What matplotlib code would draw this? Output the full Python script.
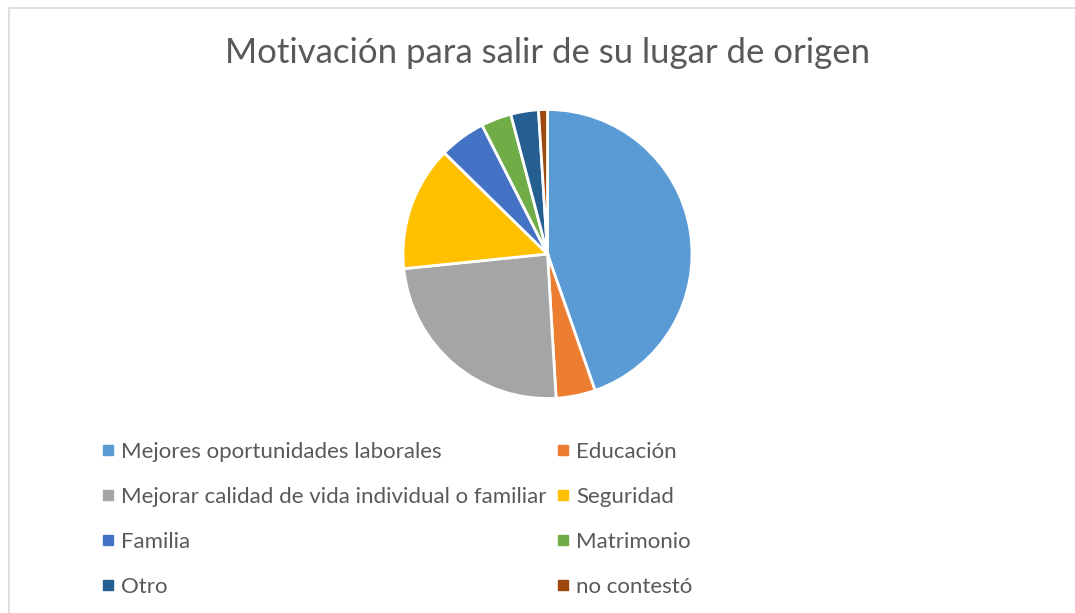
import matplotlib.pyplot as plt
from matplotlib.lines import Line2D
from matplotlib.patches import Rectangle

# data (percent)
labels = ["Mejores oportunidades laborales", "Educación",
          "Mejorar calidad de vida individual o familiar", "Seguridad",
          "Familia", "Matrimonio", "Otro", "no contestó"]
values = [44.8, 4.4, 24.4, 14.0, 5.2, 3.4, 3.1, 1.0]
colors = ["#5B9BD5", "#ED7D31", "#A5A5A5", "#FFC000",
          "#4472C4", "#70AD47", "#255E91", "#9E480E"]

title = "Motivación para salir de su lugar de origen"
text_color = "#595959"

plt.rcParams['font.family'] = ['Lato', 'DejaVu Sans']

W, H = 1075, 613
fig = plt.figure(figsize=(W / 100, H / 100), dpi=100)

# pie centre and radius in pixels
cx, cy, r = 547.5, 254, 144.5
half = r * 1.25
ax = fig.add_axes([(cx - half) / W, 1 - (cy + half) / H, 2 * half / W, 2 * half / H])
ax.pie(values, colors=colors, startangle=90, counterclock=False,
       wedgeprops=dict(edgecolor="white", linewidth=2))
ax.set_xlim(-1.25, 1.25)
ax.set_ylim(-1.25, 1.25)

fig.text(cx / W, 1 - 53 / H, title, ha="center", va="center",
         fontsize=25, color=text_color)

handles = [Line2D([], [], marker="s", linestyle="none", markersize=7,
                  markerfacecolor=c, markeredgecolor=c) for c in colors]
# legend fills row by row like Excel: reorder for matplotlib's column fill
order = [0, 2, 4, 6, 1, 3, 5, 7]
fig.legend([handles[i] for i in order], [labels[i] for i in order],
           ncol=2, loc="upper left",
           bbox_to_anchor=(91.5 / W, 1 - 433 / H), frameon=False,
           fontsize=16, labelcolor=text_color, handlelength=0.7,
           handletextpad=0.24, columnspacing=0.38, labelspacing=1.12,
           borderaxespad=0)

# chart area border
fig.add_artist(Rectangle((8.5 / W, -0.1), 1.2, 1 - 8.5 / H + 0.1,
                         transform=fig.transFigure, fill=False,
                         edgecolor="#D9D9D9", linewidth=1.2))

fig.savefig("out.png", dpi=100)
